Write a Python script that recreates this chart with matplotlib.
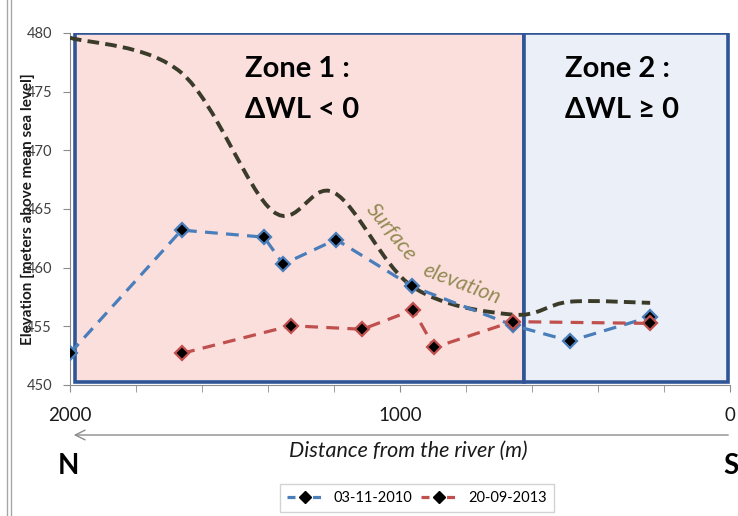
import matplotlib

matplotlib.use("Agg")
import matplotlib.pyplot as plt
from matplotlib.lines import Line2D
from matplotlib.patches import FancyArrowPatch, PathPatch, Rectangle
from matplotlib.path import Path
from matplotlib.ticker import FixedLocator, NullFormatter

plt.rcParams["font.family"] = ["Lato", "Open Sans", "DejaVu Sans"]

# --- data ------------------------------------------------------------------
DIST_2010 = [2000, 1662, 1412, 1354, 1194, 963, 659, 485, 242]
WL_2010 = [452.7, 463.2, 462.6, 460.3, 462.4, 458.4, 455.1, 453.75, 455.8]
DIST_2013 = [1660, 1331, 1114, 960, 896, 659, 242]
WL_2013 = [452.7, 455.05, 454.75, 456.4, 453.2, 455.4, 455.25]
DIST_SURF = [2000, 1662, 1385, 1200, 963, 659, 485, 242]
ELEV_SURF = [479.6, 476.6, 464.8, 466.4, 458.4, 456.0, 457.1, 457.0]
ZONE_SPLIT = 624
X_LABELS = {2000: "2000", 1000: "1000", 0: "0"}
SERIES = [("03-11-2010", "#4a7ebb"), ("20-09-2013", "#c0504d")]

W, H = 738, 516
BLUE_EDGE = "#2f5597"
INK = "#1a1a1a"


def fx(px):
    return px / W


def fy(py):
    return 1 - py / H


def smooth_path(xs, ys):
    # Excel-style smoothed line: Catmull-Rom as cubic Bezier segments
    pts = list(zip(xs, ys))
    verts, codes = [pts[0]], [Path.MOVETO]
    n = len(pts)
    for i in range(n - 1):
        p0 = pts[i - 1] if i > 0 else pts[i]
        p1, p2 = pts[i], pts[i + 1]
        p3 = pts[i + 2] if i + 2 < n else pts[i + 1]
        c1 = (p1[0] + (p2[0] - p0[0]) / 6, p1[1] + (p2[1] - p0[1]) / 6)
        c2 = (p2[0] - (p3[0] - p1[0]) / 6, p2[1] - (p3[1] - p1[1]) / 6)
        verts += [c1, c2, p2]
        codes += [Path.CURVE4] * 3
    return Path(verts, codes)


fig = plt.figure(figsize=(W / 100, H / 100), dpi=100)
ax = fig.add_axes([fx(70), fy(385), fx(730) - fx(70), fy(33) - fy(385)])
ax.set_xlim(2000, 0)
ax.set_ylim(450, 480)

# zones
ax.add_patch(Rectangle((1985, 450.25), ZONE_SPLIT - 1985, 29.75,
                       facecolor="#fbdfdd", edgecolor=BLUE_EDGE, lw=2.6,
                       zorder=1))
ax.add_patch(Rectangle((ZONE_SPLIT, 450.25), 6 - ZONE_SPLIT, 29.75,
                       facecolor="#ebf0f8", edgecolor=BLUE_EDGE, lw=2.6,
                       zorder=1))

# surface elevation (smoothed)
ax.add_patch(PathPatch(smooth_path(DIST_SURF, ELEV_SURF), fill=False,
                       edgecolor="#3b3b2a", lw=2.8, ls=(0, (3, 1.6)),
                       zorder=3))

for (label, col), (xs, ys) in zip(SERIES, [(DIST_2010, WL_2010),
                                           (DIST_2013, WL_2013)]):
    ax.plot(xs, ys, color=col, lw=2.3, ls=(0, (4, 2.6)), zorder=4)
    ax.plot(xs, ys, ls="none", marker="D", ms=7.5, markerfacecolor="black",
            markeredgecolor=col, markeredgewidth=1.6, zorder=5)

# axes styling
for side in ("top", "right"):
    ax.spines[side].set_visible(False)
for side in ("left", "bottom"):
    ax.spines[side].set_color("#8c8c8c")
ax.set_yticks(range(450, 481, 5))
ax.tick_params(axis="y", direction="out", length=5, color="#8c8c8c",
               labelsize=10.5, labelcolor="#404040", pad=8)
ax.xaxis.set_major_locator(FixedLocator(list(X_LABELS)))
ax.set_xticklabels(list(X_LABELS.values()))
ax.xaxis.set_minor_locator(FixedLocator(range(0, 2001, 200)))
ax.xaxis.set_minor_formatter(NullFormatter())
ax.tick_params(axis="x", which="both", direction="out", length=5,
               color="#8c8c8c")
ax.tick_params(axis="x", which="major", labelsize=13.5, labelcolor=INK,
               pad=11)

fig.text(fx(28), fy(209), "Elevation [meters above mean sea level]",
         rotation=90, ha="center", va="center", fontsize=11,
         fontweight="bold", color=INK)

# zone labels
zone_kw = dict(fontsize=21, fontweight="bold", color="black",
               va="center", ha="left")
fig.text(fx(245), fy(69), "Zone 1 :", **zone_kw)
fig.text(fx(245), fy(110), "ΔWL < 0", **zone_kw)
fig.text(fx(565), fy(69), "Zone 2 :", **zone_kw)
fig.text(fx(565), fy(110), "ΔWL ≥ 0", **zone_kw)

surf_kw = dict(fontsize=15.5, style="italic", color="#948a54",
               ha="center", va="center")
fig.text(fx(391), fy(232), "Surface", rotation=-51, **surf_kw)
fig.text(fx(462), fy(284), "elevation", rotation=-21, **surf_kw)

# direction arrow and compass letters
fig.add_artist(FancyArrowPatch(
    (fx(731), fy(435)), (fx(71), fy(435)), transform=fig.transFigure,
    arrowstyle="->,head_length=7,head_width=3.5", color="#8c8c8c", lw=1.0))
fig.text(fx(408), fy(451), "Distance from the river (m)", style="italic",
         fontsize=15.5, color=INK, ha="center", va="center")
fig.text(fx(68), fy(466), "N", fontsize=20, fontweight="bold", color="black",
         ha="center", va="center")
fig.text(fx(731), fy(466), "S", fontsize=20, fontweight="bold",
         color="black", ha="center", va="center")

# outer frame lines on the left
for xp in (7, 11):
    fig.add_artist(Line2D([fx(xp), fx(xp)], [0, 1], color="#a6a6a6",
                          lw=1.0, transform=fig.transFigure))

handles = [Line2D([], [], color=col, lw=2.3, ls=(0, (2.5, 1.5)), marker="D",
                  ms=6, markerfacecolor="black", markeredgecolor="black")
           for _, col in SERIES]
fig.legend(handles, [s[0] for s in SERIES], loc="center",
           bbox_to_anchor=(fx(417), fy(498)), ncol=2, fontsize=10.5,
           frameon=True, fancybox=False, edgecolor="#c8c8c8",
           handlelength=2.4, columnspacing=0.6, handletextpad=0.8,
           borderpad=0.5)

fig.savefig("out.png", dpi=100)
